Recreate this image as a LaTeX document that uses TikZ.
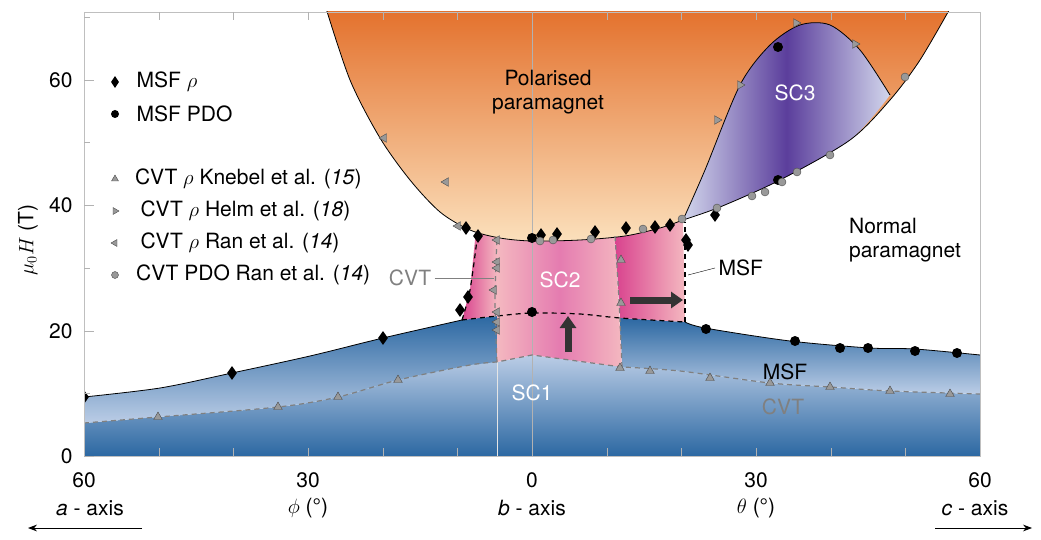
\documentclass[tikz,border=0pt]{standalone}
\usepackage{fontspec}
\setmainfont{TeX Gyre Heros}
\usetikzlibrary{shapes.geometric,arrows.meta,positioning}
\definecolor{orD}{HTML}{E36F2A}
\definecolor{orL}{HTML}{FBE0BC}
\definecolor{blD}{HTML}{2C68A2}
\definecolor{blL}{HTML}{BBCDE6}
\definecolor{pkD}{HTML}{D9438E}
\definecolor{pkL}{HTML}{F4B8C0}
\definecolor{puD}{HTML}{5B3E9C}
\definecolor{puL}{HTML}{D2D6EC}
\tikzset{
  dia/.style={diamond,fill=black,inner sep=0pt,minimum width=10pt,minimum height=14pt},
  dot/.style={circle,fill=black,inner sep=0pt,minimum size=10pt},
  gdot/.style={circle,fill=gray!80,draw=black!70,thin,inner sep=0pt,minimum size=8pt},
  tri/.style={regular polygon,regular polygon sides=3,fill=gray!80,draw=black!70,thin,inner sep=0pt,minimum size=10pt},
  lbl/.style={font=\fontsize{21}{24}\selectfont},
  bigarrow/.style={line width=7pt,-{Triangle[length=12pt,width=16pt]},black!80}
}
\begin{document}
\begin{tikzpicture}[x=1pt,y=-1pt]
\useasboundingbox (0,0) rectangle (1041,540);
\begin{scope}
\clip (84,12) rectangle (980,456);
% low field phase (below CVT)
\shade[top color=blL,bottom color=blD] (84,423) -- plot[smooth] coordinates {(84,423)(158,417)(278,407)(338,397)(398,380)(470,365)(497,362)} -- (532,355) -- plot[smooth] coordinates {(622,367)(680,371)(770,383)(830,387)(890,391)(980,394)} -- (980,456) -- (84,456) -- cycle;
% MSF to CVT, left
\shade[top color=blD,bottom color=blL] plot[smooth] coordinates {(84,397)(160,388)(232,373)(310,356)(383,338)(462,320)} -- (497,316) -- (497,362) -- plot[smooth] coordinates {(470,365)(398,380)(338,397)(278,407)(158,417)(84,423)} -- cycle;
% MSF to CVT, right
\shade[top color=blD,bottom color=blL] (620,318) -- plot[smooth] coordinates {(685,322)(705,328)(790,341)(870,348)(915,349)(980,355)} -- (980,394) -- plot[smooth] coordinates {(890,391)(830,387)(770,383)(680,371)(622,367)} -- cycle;
% SC2
\shade[left color=pkL,right color=pkL,middle color=pkD!70] (497,238) -- (497,362) -- (532,355) -- (622,367) -- (615,236) -- (532,241) -- cycle;
\shade[left color=pkD,right color=pkL] (476,230) -- (497,238) -- (497,316) -- (462,320) -- (470,290) -- cycle;
\shade[left color=pkD,right color=pkL] (615,236) -- (683,220) -- (685,322) -- (620,318) -- cycle;
% polarised paramagnet
\shade[top color=orD,bottom color=orL] plot[smooth] coordinates {(325,5)(350,80)(380,138)(410,180)(440,212)(470,230)(500,238)(532,241)(580,240)(625,236)(660,228)(683,220)} -- plot[smooth] coordinates {(683,220)(720,207)(780,180)(850,140)(890,100)(920,60)(952,5)} -- cycle;
% SC3
\shade[left color=puL,right color=puL,middle color=puD] plot[smooth] coordinates {(683,220)(705,170)(740,85)(770,45)(800,25)(830,25)(860,50)(890,95)} -- plot[smooth] coordinates {(890,95)(850,140)(780,180)(720,207)(683,220)} -- cycle;
% boundaries
\draw[gray!60,thin] (532,12) -- (532,456);
\draw[white!80!gray,thin] (497,362) -- (497,456);
\draw[thick] plot[smooth] coordinates {(325,5)(350,80)(380,138)(410,180)(440,212)(470,230)(500,238)(532,241)(580,240)(625,236)(660,228)(683,220)};
\draw[thick] plot[smooth] coordinates {(683,220)(720,207)(780,180)(850,140)(890,100)(920,60)(952,5)};
\draw[thick] plot[smooth] coordinates {(683,220)(705,170)(740,85)(770,45)(800,25)(830,25)(860,50)(890,95)};
\draw[thick] plot[smooth] coordinates {(84,397)(160,388)(232,373)(310,356)(383,338)(462,320)};
\draw[thick] plot[smooth] coordinates {(685,322)(705,328)(790,341)(870,348)(915,349)(980,355)};
\draw[very thick,dash pattern=on 5pt off 4pt] plot[smooth] coordinates {(462,320)(497,316)(532,313)(580,314)(620,318)(685,322)};
\draw[very thick,dash pattern=on 5pt off 4pt] plot[smooth] coordinates {(462,320)(470,290)(478,232)};
\draw[very thick,dash pattern=on 5pt off 4pt] (685,322) -- (685,222);
\draw[very thick,dash pattern=on 5pt off 4pt,gray] plot[smooth] coordinates {(84,423)(158,417)(278,407)(338,397)(398,380)(470,365)(497,362)} -- (532,355) -- plot[smooth] coordinates {(622,367)(680,371)(770,383)(830,387)(890,391)(980,394)};
\draw[very thick,dash pattern=on 5pt off 4pt,gray] plot[smooth] coordinates {(497,362)(495,300)(497,238)};
\draw[very thick,dash pattern=on 5pt off 4pt,gray] plot[smooth] coordinates {(622,367)(619,300)(615,236)};
% data
\foreach \p in {(84,397),(232,373),(383,338),(460,310),(468,297),(466,228),(478,236),(541,235),(557,234),(595,232),(626,228),(655,227),(670,225),(686,240),(688,245),(715,215)}
  \node[dia] at \p {};
\foreach \p in {(532,312),(532,238),(706,329),(795,341),(840,348),(868,348),(915,351),(957,353),(778,47),(778,180)}
  \node[dot] at \p {};
\foreach \p in {(540,241),(553,240),(591,239),(643,229),(682,219),(717,208),(752,196),(765,192),(782,182),(797,172),(830,155),(905,77)}
  \node[gdot] at \p {};
\foreach \p in {(158,417),(278,407),(338,397),(398,380),(620,368),(650,371),(710,378),(770,383),(830,387),(890,391),(950,394),(621,260),(621,303)}
  \node[tri] at \p {};
\foreach \p in {(740,85),(717,120),(796,23),(855,44)}
  \node[tri,rotate=-90] at \p {};
\foreach \p in {(384,138),(446,182),(458,226),(497,240),(497,262),(497,268),(494,290),(497,312),(497,322),(497,330)}
  \node[tri,rotate=90] at \p {};
\end{scope}
% frame and ticks
\draw[gray!50] (84,12) rectangle (980,456);
\foreach \x in {158.7,233.3,308,382.7,457.3,532,606.7,681.3,756,830.7,905.3}
  \draw[gray!60] (\x,12) -- (\x,20) (\x,456) -- (\x,448);
\foreach \y/\t in {456/0,331/20,205/40,80/60}
  \draw[gray!60] (84,\y) -- (94,\y) node[lbl,black,anchor=east,xshift=-18pt] {\t};
\foreach \y in {393,268,142,17}
  \draw[gray!60] (84,\y) -- (90,\y);
\foreach \x/\t in {84/60,308/30,532/0,756/30,980/60}
  \node[lbl] at (\x,480) {\t};
\node[lbl,rotate=90] (ylab) at (28,240) {$\mu_0H$ (T)};
% axis names
\node[lbl] (aax) at (90,508) {\textit{a} - axis};
\node[lbl] (phi) at (308,508) {$\phi$ (°)};
\node[lbl] (bax) at (532,508) {\textit{b} - axis};
\node[lbl] (tht) at (756,508) {$\theta$ (°)};
\node[lbl] (cax) at (975,508) {\textit{c} - axis};
\coordinate (aaR) at (142,528);
\coordinate (aaL) at (28,528);
\coordinate (caL) at (935,528);
\coordinate (caR) at (1032,528);
\draw[thick,-{Stealth[length=9pt]}] (aaR) -- (aaL);
\draw[thick,-{Stealth[length=9pt]}] (caL) -- (caR);
% legend
\node[dia,minimum width=8pt,minimum height=12pt] (l1) at (115,82) {};
\node[lbl,right=14pt of l1] {MSF $\rho$};
\node[dot,minimum size=8pt] (l2) at (115,114) {};
\node[lbl,right=14pt of l2] {MSF PDO};
\node[tri,minimum size=8pt] (l3) at (115,179) {};
\node[lbl,right=14pt of l3] {CVT $\rho$ Knebel et al. (\textit{15})};
\node[tri,rotate=-90,minimum size=8pt] (l4) at (115,211) {};
\node[lbl,anchor=west] at (137,211) {CVT $\rho$ Helm et al. (\textit{18})};
\node[tri,rotate=90,minimum size=8pt] (l5) at (115,243) {};
\node[lbl,anchor=west] at (137,243) {CVT $\rho$ Ran et al. (\textit{14})};
\node[gdot,minimum size=7pt] (l6) at (115,275) {};
\node[lbl,right=14pt of l6] {CVT PDO Ran et al. (\textit{14})};
% phase labels
\node[lbl,align=center] (pp) at (548,92) {Polarised\\paramagnet};
\node[lbl,white] (sc3) at (795,93) {SC3};
\node[lbl,align=left] (np) at (905,240) {Normal\\paramagnet};
\node[lbl,white] (sc2) at (560,280) {SC2};
\node[lbl,white] (sc1) at (532,393) {SC1};
\node[lbl,anchor=west] (msf1) at (715,268) {MSF};
\draw (msf1.west) -- (688,275);
\node[lbl,gray] (cvt1) at (410,278) {CVT};
\draw[gray] (cvt1.east) -- (494,278);
\node[lbl] (msf2) at (785,372) {MSF};
\node[lbl,gray] (cvt2) at (783,407) {CVT};
% evolution arrows
\coordinate (ua) at (568,352);
\coordinate (ub) at (568,316);
\draw[bigarrow] (ua) -- (ub);
\coordinate (ra) at (630,300);
\coordinate (rb) at (683,300);
\draw[bigarrow] (ra) -- (rb);
\end{tikzpicture}
\end{document}
